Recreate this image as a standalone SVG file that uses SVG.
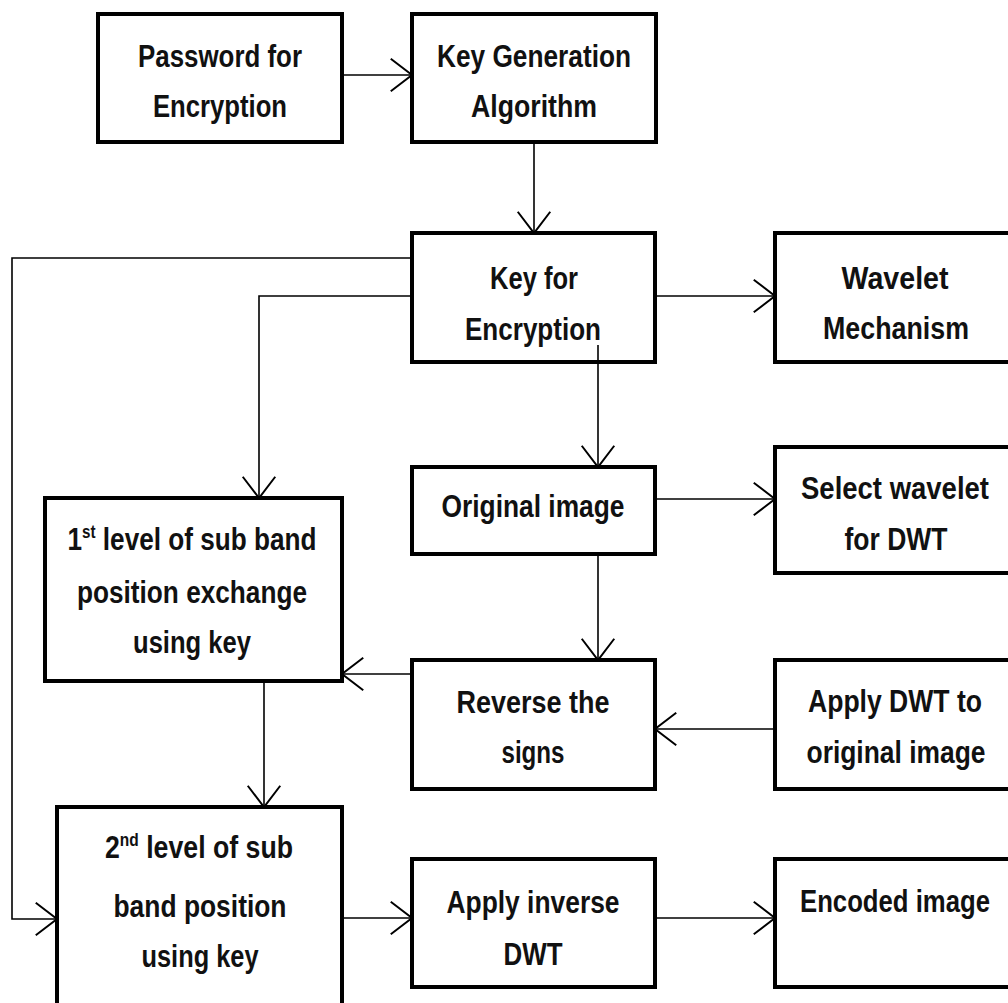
<svg xmlns="http://www.w3.org/2000/svg" width="1008" height="1003" viewBox="0 0 1008 1003">
<style>
.box{fill:#fff;stroke:#000;stroke-width:4}
.t{font-family:"Liberation Sans",Arial,sans-serif;font-weight:bold;font-size:31px;fill:#111;text-anchor:middle}
.sup{font-size:18px}
.c{fill:none;stroke:#000;stroke-width:1.6}
</style>
<defs>
<marker id="ah" markerUnits="userSpaceOnUse" markerWidth="40" markerHeight="40" refX="0" refY="0" viewBox="-20 -16 22 32" orient="auto" overflow="visible">
<path d="M-17,-13 L0,0 L-17,13" fill="none" stroke="#000" stroke-width="1.6"/>
</marker>
</defs>
<rect width="1008" height="1003" fill="#fff"/>
<g id="connectors">
<line class="c" x1="342" y1="75" x2="412" y2="75" marker-end="url(#ah)"/>
<line class="c" x1="534" y1="142" x2="534" y2="233" marker-end="url(#ah)"/>
<line class="c" x1="655" y1="296" x2="775" y2="296" marker-end="url(#ah)"/>
<line class="c" x1="598" y1="345" x2="598" y2="467" marker-end="url(#ah)"/>
<line class="c" x1="655" y1="499" x2="775" y2="499" marker-end="url(#ah)"/>
<line class="c" x1="598" y1="554" x2="598" y2="660" marker-end="url(#ah)"/>
<line class="c" x1="775" y1="729" x2="655" y2="729" marker-end="url(#ah)"/>
<line class="c" x1="412" y1="674" x2="342" y2="674" marker-end="url(#ah)"/>
<line class="c" x1="264" y1="681" x2="264" y2="807" marker-end="url(#ah)"/>
<line class="c" x1="342" y1="918" x2="412" y2="918" marker-end="url(#ah)"/>
<line class="c" x1="655" y1="918" x2="775" y2="918" marker-end="url(#ah)"/>
<polyline class="c" points="412,296 259,296 259,498" marker-end="url(#ah)"/>
<polyline class="c" points="415,258 12,258 12,919 57,919" marker-end="url(#ah)"/>
</g>
<g id="n-password"><rect class="box" x="98" y="14" width="244" height="128"/>
<text class="t" x="220" y="67" textLength="164" lengthAdjust="spacingAndGlyphs">Password for</text>
<text class="t" x="220" y="117" textLength="134" lengthAdjust="spacingAndGlyphs">Encryption</text></g>
<g id="n-keygen"><rect class="box" x="412" y="14" width="244" height="128"/>
<text class="t" x="534" y="67" textLength="194" lengthAdjust="spacingAndGlyphs">Key Generation</text>
<text class="t" x="534" y="117" textLength="126" lengthAdjust="spacingAndGlyphs">Algorithm</text></g>
<g id="n-key"><rect class="box" x="412" y="233" width="243" height="129"/>
<text class="t" x="534" y="289" textLength="88" lengthAdjust="spacingAndGlyphs">Key for</text>
<text class="t" x="533" y="340" textLength="136" lengthAdjust="spacingAndGlyphs">Encryption</text></g>
<line class="c" x1="598" y1="345" x2="598" y2="364"/>
<g id="n-wavelet"><path class="box" d="M1012,233 H775 V362 H1012"/>
<text class="t" x="895" y="289" textLength="107" lengthAdjust="spacingAndGlyphs">Wavelet</text>
<text class="t" x="896" y="339" textLength="146" lengthAdjust="spacingAndGlyphs">Mechanism</text></g>
<g id="n-original"><rect class="box" x="412" y="467" width="243" height="87"/>
<text class="t" x="533" y="517" textLength="183" lengthAdjust="spacingAndGlyphs">Original image</text></g>
<g id="n-select"><path class="box" d="M1012,447 H775 V573 H1012"/>
<text class="t" x="895" y="499" textLength="188" lengthAdjust="spacingAndGlyphs">Select wavelet</text>
<text class="t" x="896" y="550" textLength="103" lengthAdjust="spacingAndGlyphs">for DWT</text></g>
<g id="n-level1"><rect class="box" x="45" y="498" width="297" height="183"/>
<text class="t" x="192" y="550" textLength="249" lengthAdjust="spacingAndGlyphs">1<tspan class="sup" baseline-shift="12">st</tspan> level of sub band</text>
<text class="t" x="192" y="603" textLength="230" lengthAdjust="spacingAndGlyphs">position exchange</text>
<text class="t" x="192" y="653" textLength="118" lengthAdjust="spacingAndGlyphs">using key</text></g>
<g id="n-reverse"><rect class="box" x="412" y="660" width="243" height="129"/>
<text class="t" x="533" y="713" textLength="153" lengthAdjust="spacingAndGlyphs">Reverse the</text>
<text class="t" x="533" y="763" textLength="63" lengthAdjust="spacingAndGlyphs">signs</text></g>
<g id="n-applydwt"><path class="box" d="M1012,660 H775 V789 H1012"/>
<text class="t" x="895" y="712" textLength="174" lengthAdjust="spacingAndGlyphs">Apply DWT to</text>
<text class="t" x="896" y="763" textLength="179" lengthAdjust="spacingAndGlyphs">original image</text></g>
<g id="n-level2"><path class="box" d="M57,1010 V807 H342 V1010"/>
<text class="t" x="199" y="858" textLength="188" lengthAdjust="spacingAndGlyphs">2<tspan class="sup" baseline-shift="12">nd</tspan> level of sub</text>
<text class="t" x="200" y="917" textLength="173" lengthAdjust="spacingAndGlyphs">band position</text>
<text class="t" x="200" y="967" textLength="117" lengthAdjust="spacingAndGlyphs">using key</text></g>
<g id="n-inverse"><rect class="box" x="412" y="859" width="243" height="128"/>
<text class="t" x="533" y="913" textLength="173" lengthAdjust="spacingAndGlyphs">Apply inverse</text>
<text class="t" x="533" y="965" textLength="59" lengthAdjust="spacingAndGlyphs">DWT</text></g>
<g id="n-encoded"><path class="box" d="M1012,859 H775 V987 H1012"/>
<text class="t" x="895" y="912" textLength="190" lengthAdjust="spacingAndGlyphs">Encoded image</text></g>
</svg>
